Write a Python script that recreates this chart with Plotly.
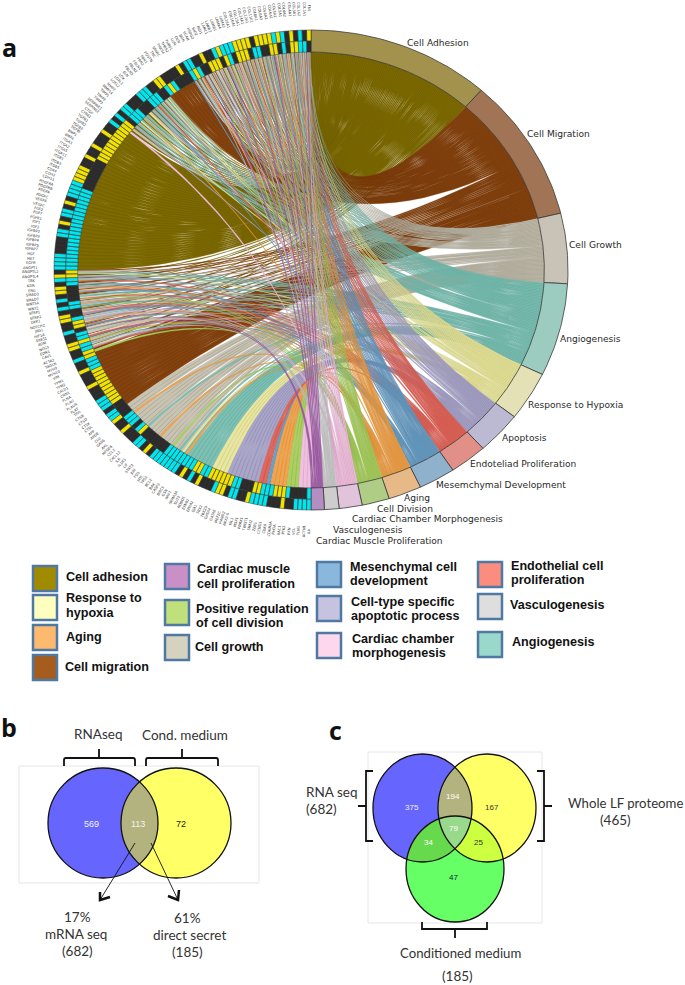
import math
import plotly.graph_objects as go

# ---------- panel a data ----------
categories = ["Cell Adhesion", "Cell Migration", "Cell Growth", "Angiogenesis", "Response to Hypoxia",
              "Apoptosis", "Endoteliad Proliferation", "Mesemchymal Development", "Aging", "Cell Division",
              "Cardiac Chamber Morphogenesis", "Vasculogenesis", "Cardiac Muscle Proliferation"]
cat_keys = list("AMGNHPEDXVCUR")
cat_share = [41.5, 34.8, 17.0, 22.5, 11.9, 10.3, 8.5, 8.3, 7.5, 6.2, 5.2, 3.3, 3.0]
ribbon_colors = ["#7d6a00", "#84420f", "#c9c4b2", "#7cc0b4", "#e9e79f", "#aaa6c9", "#e0675b", "#6c9fc5",
                 "#f0a44f", "#abd062", "#f1c1df", "#d0d0d0", "#a868ae"]
band_colors = ["#a3924d", "#a07455", "#c8c3b6", "#9ccbc0", "#e3e1b5", "#bcb9d3", "#e09086", "#8fb1cc",
               "#e6b987", "#afcd85", "#e2c3dc", "#cdcdcd", "#b48ec3"]
mixed_top = ["AMGNHPEDXVCUR", "AMNHPEDXVC", "AMGNHEDXU", "AMNPEDVR", "AMGNHPDX", "AMNHEXVC", "AMGNPDXU",
             "AMNHEDV", "AMGHPEXR", "AMNPDVC", "AMGNHEDU", "AMNPXVR", "AMGHEDX", "AMNHPDVC", "AMGNEXU",
             "AMHPDVR", "AMGNEDX", "AMNHPXC", "AMGDEVU", "AMNHPX", "AMGNEDR", "AMHPXV", "AMNEDC", "AMGHPU",
             "AMNEDX", "AMHPVR", "AMGNDC", "AMEXU", "AMNHP", "AMGD"]
mixed_upper = ["AGNH", "ANHP", "AGN", "ANE", "AGND", "ANP", "AGH", "AN", "AGNX", "ANH", "AGN", "ANP", "AG", "AC"]
mixed_left = ["MGNH", "AMNP", "MGNE", "AMGD", "ANPX", "MDEH", "AGMN", "NHEV", "MGXP", "GNVD", "AMNE",
              "DEHP", "MGNC", "NPXU", "AMDE", "MGHR", "NVUC", "MERH", "ANXV", "MGUD", "AHPE", "MV"]
growth_genes = ["G", "G", "GX", "G", "G", "G", "G", "GN", "G", "G", "G", "GX", "G", "G", "G", "GV", "G", "GN", "GH"]
gene_sets = (mixed_top + ["M"] * 7 + mixed_upper + ["A"] * 39 + mixed_left + ["M"] * 16 + growth_genes
             + ["NX"] + ["N"] * 7 + ["H"] * 4 + ["P"] * 8 + ["E"] * 2 + ["D"] + ["X"] * 4 + ["V"] * 3 + ["C"] * 3)
ring_outer = ("YKCKYKCYCY" "YYYKYYYYCC" "CYCKKYKKCC" "KYKKKKYYKK" "CCCKK"
              "KCCKC" "KCKKY" "KKKYK" "KYKKY" "YYYCC" "CCKYK" "CCKYK" "CCKKK" "KCCCC"
              "KYCKY" "YKCKC" "KYYKK" "CKKYY" "KKCKK" "YKKKY" "KKKCC" "CKCCY" "KKYKK"
              "KCCKY" "KCCCC" "CCCKY" "KCKYK" "KKCYY" "KCCKK" "YCCCC" "KKKYK" "KCCCC")[:180]
ring_outer = ring_outer.ljust(180, "C")
ring_inner = ("KCCYY" "KCKYY" "KKCCK" "YYYKC" "YKYYY" "KKCYC" "KKKKC" "YCKKC" "CCKKK"
              "CCCKY" "YYYYY" "YYYYY" "YKKKK" "KKKKC" "CCCCC" "CCCCC" "CCCCC" "CCCCC"
              "YYCCK" "KKKCC" "KKCYY" "KCCYC" "CYYCC" "CYYYY" "YYYYY" "YKKKK" "CCCKC"
              "YKKKK" "KKKCC" "CCCCC" "CYYCC" "YYYYY" "YCCKK" "KYYCC" "CYYYC" "KKKKC")
ring_colors = {"Y": "#f2e200", "C": "#00e6ee", "K": "#2b2b2b"}
gene_names = ("FN1 COL1A1 COL1A2 COL3A1 COL4A1 COL4A2 COL5A1 COL5A2 COL6A1 COL6A2 COL6A3 COL8A1 COL11A1 COL12A1 COL14A1 "
              "COL15A1 COL16A1 COL18A1 LAMA2 LAMA4 LAMB1 LAMB2 LAMC1 NID1 NID2 HSPG2 VCAN BGN DCN LUM "
              "THBS1 THBS2 THBS4 SPARC TNC POSTN FBN1 FBN2 FBLN1 FBLN2 FBLN5 ELN LOX LOXL1 LOXL2 "
              "MMP2 MMP14 TIMP1 TIMP2 TIMP3 SERPINE1 SERPINE2 CTGF CYR61 TGFB1 TGFB2 TGFB3 TGFBI BMP1 BMP4 "
              "ITGA1 ITGA2 ITGA5 ITGA11 ITGB1 ITGB3 ITGB5 CD44 CDH2 CDH11 PDGFRA PDGFRB PDGFA PDGFC VEGFA "
              "VEGFC FGF2 FGF7 FGFR1 IGF1 IGF2 IGFBP2 IGFBP3 IGFBP4 IGFBP5 IGFBP7 HGF MET EGFR ANGPT1 "
              "ANGPTL2 ANGPTL4 TEK KDR ENG SMAD3 SMAD7 WNT5A WNT2 SFRP1 SFRP2 DKK1 NOTCH2 JAG1 HIF1A "
              "EPAS1 ADM NOS3 EDN1 CAV1 ACTA2 TAGLN MYH9 MYH10 VIM TPM1 TPM2 CALD1 CNN1 FLNA "
              "PLAU PLAUR PLAT TFPI CTSB CTSD CTSK CTSL APP APOE CLU GAS6 AXL MFGE8 CCL2 "
              "CXCL12 IL6 IL1R1 LIF STAT3 JUN FOS MYC TP53 BCL2 BAX CASP3 BIRC5 GSN NRP1 "
              "SEMA3A SLIT2 ROBO1 EFNB2 EPHA2 GJA1 TBX2 TBX20 GATA4 GATA6 MEF2C HAND2 NKX2-5 ISL1 MSX1 "
              "PRRX1 TWIST1 SNAI2 ZEB1 CCND1 CDK6 CDKN1A RHOA RAC1 PTK2 PXN VCL TLN1 ACTN1 ILK").split()

# ---------- panel b / c data ----------
venn_b_counts = ["569", "113", "72"]
venn_c_counts = ["375", "194", "167", "79", "34", "25", "47"]

legend_rows = [
    ("#a08a00", ["Cell adhesion"]), ("#ffffc0", ["Response to", "hypoxia"]), ("#fdb96e", ["Aging"]),
    ("#a65c1c", ["Cell migration"]), ("#c990c8", ["Cardiac muscle", "cell proliferation"]),
    ("#bfe07a", ["Positive regulation", "of cell division"]), ("#d6d2c0", ["Cell growth"]),
    ("#8ab8dc", ["Mesenchymal cell", "development"]), ("#c5c3e0", ["Cell-type specific", "apoptotic process"]),
    ("#fdd8ec", ["Cardiac chamber", "morphogenesis"]), ("#fb8d7f", ["Endothelial cell", "proliferation"]),
    ("#dedede", ["Vasculogenesis"]), ("#9bd8cc", ["Angiogenesis"])]

# ---------- layout constants ----------
W, H = 685, 985
CX, CY, RX, RY = 311, 270, 257, 240
R_IN, R_MID = 0.908, 0.954
fig = go.Figure()
ann = []
shapes = []


def pt(deg, r):
    a = math.radians(deg)
    return CX + RX * r * math.sin(a), CY - RY * r * math.cos(a)


def arc(d0, d1, r, n=4):
    return [pt(d0 + (d1 - d0) * i / n, r) for i in range(n + 1)]


def bez(p0, p1, n=26):
    out = []
    for i in range(n + 1):
        t = i / n
        out.append(((1 - t) ** 2 * p0[0] + 2 * t * (1 - t) * CX + t ** 2 * p1[0],
                    (1 - t) ** 2 * p0[1] + 2 * t * (1 - t) * CY + t ** 2 * p1[1]))
    return out


def poly_trace(polys, fill, line, lw):
    xs, ys = [], []
    for p in polys:
        xs += [q[0] for q in p] + [p[0][0], None]
        ys += [q[1] for q in p] + [p[0][1], None]
    fig.add_trace(go.Scatter(x=xs, y=ys, mode="lines", fill="toself", fillcolor=fill,
                             line=dict(color=line, width=lw), hoverinfo="skip", showlegend=False))


def text(x, y, s, size, color="#222", anchor="center", family="Lato", bold=False, angle=0):
    ann.append(dict(x=x - 2 if anchor == "left" else x, y=y, text=f"<b>{s}</b>" if bold else s, showarrow=False,
                    xref="x", yref="y", xanchor=anchor, yanchor="middle", textangle=angle, align="left",
                    font=dict(size=size, color=color, family=family)))


# ---------- chord ----------
N = len(gene_sets)
unit = 180.0 / N
cat_start, acc = {}, 0.0
for k, s in zip(cat_keys, cat_share):
    cat_start[k] = acc
    acc += s
cat_count = {k: sum(k in g for g in gene_sets) for k in cat_keys}
cat_pos = {k: 0 for k in cat_keys}
ribbons = {k: [] for k in cat_keys}
for i, g in enumerate(gene_sets):
    w = unit / len(g)
    for j, k in enumerate(sorted(g, key=cat_keys.index)):
        ga0 = 360 - (i + j * w / unit) * unit
        ga1 = ga0 - w
        step = cat_share[cat_keys.index(k)] / max(cat_count[k], 1)
        ca0 = cat_start[k] + cat_pos[k] * step
        ca1 = ca0 + step
        cat_pos[k] += 1
        poly = arc(ca0, ca1, R_IN, 2) + bez(pt(ca1, R_IN), pt(ga1, R_IN)) + arc(ga1, ga0, R_IN, 2) + bez(pt(ga0, R_IN), pt(ca0, R_IN))
        ribbons[k].append(poly)
dark = ["#6a5a00", "#6f3608", "#8f8b7c", "#5c9c91", "#b9b76e", "#807ca3", "#b9493f", "#4c7ea3", "#c98232",
        "#86a845", "#c892b4", "#9c9c9c", "#86498c"]
for k, col, d in zip(cat_keys, ribbon_colors, dark):
    if ribbons[k]:
        poly_trace(ribbons[k], col, d, 0.25)

# category bands
for k, s, col, name in zip(cat_keys, cat_share, band_colors, categories):
    d0 = cat_start[k]
    d1 = d0 + s
    poly_trace([arc(d0, d1, 1.0, 30) + arc(d1, d0, R_IN, 30)], col, "#3a3a3a", 0.8)

# gene cells
for ring, r0, r1 in ((ring_outer, R_MID, 1.0), (ring_inner, R_IN, R_MID)):
    groups = {"Y": [], "C": [], "K": []}
    for i, c in enumerate(ring):
        a0 = 360 - i * unit
        a1 = a0 - unit
        groups[c].append(arc(a0, a1, r1, 2) + arc(a1, a0, r0, 2))
    for c, polys in groups.items():
        poly_trace(polys, ring_colors[c], "#333333", 0.5)

# gene labels
for i, name in enumerate(gene_names[:N]):
    alpha = (i + 0.5) * unit
    x, y = pt(360 - alpha, 1.09)
    text(x, y, name, 3.6, "#333", family="DejaVu Sans", angle=90 - alpha)

cat_label_pos = [(407, 43), (527, 134), (569, 245), (560, 339), (528, 405), (502, 438), (470, 464),
                 (436, 485), (404, 498), (377, 509), (352, 519), (333, 530), (316, 541)]
for name, (x, y) in zip(categories, cat_label_pos):
    text(x, y, name, 9.1, "#2a2a2a", "left", "DejaVu Sans")

# ---------- legend ----------
legend_boxes = [(33, 566), (33, 595), (33, 625), (33, 655), (165, 564), (165, 600), (165, 635),
                (317, 562), (317, 596), (317, 633), (478, 562), (478, 594), (478, 632)]
legend_text = [(66, [577]), (66, [598, 613]), (66, [637]), (65, [667]), (197, [569, 584]), (196, [609, 623]),
               (195, [647]), (350, [567, 581]), (351, [602, 616]), (352, [639, 653]), (511, [566, 580]),
               (510, [605]), (512, [642])]
for (col, lines), (bx, by), (tx, tys) in zip(legend_rows, legend_boxes, legend_text):
    shapes.append(dict(type="rect", xref="x", yref="y", x0=bx, x1=bx + 24, y0=by, y1=by + 25,
                       fillcolor=col, line=dict(color="#4f78a3", width=2.5)))
    for s, ty in zip(lines, tys):
        text(tx, ty, s, 12.6, "#111", "left", "Liberation Sans", bold=True)

# ---------- venn helpers ----------


def ellipse(c, n=240):
    return [(c[0] + c[2] * math.cos(2 * math.pi * i / n), c[1] + c[3] * math.sin(2 * math.pi * i / n)) for i in range(n)]


def inside(p, c):
    return ((p[0] - c[0]) / c[2]) ** 2 + ((p[1] - c[1]) / c[3]) ** 2 <= 1.0


def overlap(*cs):
    pts = []
    for c in cs:
        pts += [p for p in ellipse(c, 720) if all(inside(p, o) for o in cs if o is not c)]
    mx = sum(p[0] for p in pts) / len(pts)
    my = sum(p[1] for p in pts) / len(pts)
    return sorted(pts, key=lambda p: math.atan2(p[1] - my, p[0] - mx))


def outline(c):
    shapes.append(dict(type="circle", xref="x", yref="y", x0=c[0] - c[2], x1=c[0] + c[2], y0=c[1] - c[3], y1=c[1] + c[3],
                       line=dict(color="#111", width=1.3), fillcolor="rgba(0,0,0,0)", layer="above"))


def path(d, width=1.8, color="#111"):
    shapes.append(dict(type="path", xref="x", yref="y", path=d, line=dict(color=color, width=width), layer="above"))


BLUE, YEL, GRN = "#6666ff", "#ffff66", "#66ff66"
# frames
shapes.append(dict(type="rect", xref="x", yref="y", x0=19, x1=259, y0=766, y1=883, line=dict(color="#e6e6e6", width=1)))
shapes.append(dict(type="rect", xref="x", yref="y", x0=368, x1=542, y0=752, y1=923, line=dict(color="#e6e6e6", width=1)))

# panel b
bl, br = (103, 823, 55, 55), (176, 823, 55, 55)
poly_trace([ellipse(bl)], BLUE, BLUE, 0)
poly_trace([ellipse(br)], YEL, YEL, 0)
poly_trace([overlap(bl, br)], "#b3b380", "#b3b380", 0)
outline(bl)
outline(br)
for s, x, col in zip(venn_b_counts, (91, 138, 181), ("#f4f4ff", "#f4f4e8", "#222")):
    text(x, 824, s, 9, col, family="Liberation Sans")
path("M135,843 L100,900", 0.9)
path("M151,843 L178,900", 0.9)
path("M100,892 L100,900 L110,897", 2.5)
path("M168,896 L178,900 L179,890", 2.5)
path("M64,766 L64,760 Q64,758 66,758 L133,758 Q135,758 135,760 L135,766 M99,758 L99,749")
path("M146,766 L146,760 Q146,758 148,758 L216,758 Q218,758 218,760 L218,766 M182,758 L182,749")
text(98, 734, "RNAseq", 13.5, "#333")
text(185, 735, "Cond. medium", 13.5, "#333")
for x, y, s in ((77, 917, "17%"), (76, 934, "mRNA seq"), (77, 951, "(682)"),
                (187, 918, "61%"), (189, 935, "direct secret"), (187, 952, "(185)")):
    text(x, y, s, 13.5, "#333")

# panel c
cb, cy_, cg = (422.5, 808, 49.5, 54), (487, 808, 49, 54), (455, 869, 49, 53)
poly_trace([ellipse(cb)], BLUE, BLUE, 0)
poly_trace([ellipse(cy_)], YEL, YEL, 0)
poly_trace([ellipse(cg)], GRN, GRN, 0)
poly_trace([overlap(cb, cy_)], "#b3b380", "#b3b380", 0)
poly_trace([overlap(cb, cg)], "#66d94d", "#66d94d", 0)
poly_trace([overlap(cy_, cg)], "#ccff40", "#ccff40", 0)
poly_trace([overlap(cb, cy_, cg)], "#99d98c", "#99d98c", 0)
for c in (cb, cy_, cg):
    outline(c)
for s, (x, y), col in zip(venn_c_counts, ((412, 807), (453, 796), (492, 807), (453, 828), (428, 842), (478, 842), (453, 877)),
                          ("#eef", "#fff", "#333", "#fff", "#fff", "#333", "#124")):
    text(x, y, s, 8, col, family="Liberation Sans")
path("M373,771 L366,771 L366,841 L373,841 M366,806 L358,806")
path("M537,771 L544,771 L544,841 L537,841 M544,806 L552,806")
path("M422,922 L422,929 L487,929 L487,922 M455,929 L455,938")
text(306, 792, "RNA seq", 13.5, "#333", "left")
text(306, 809, "(682)", 13.5, "#333", "left")
text(625, 803, "Whole LF proteome", 13.2, "#333")
text(615, 820, "(465)", 13.5, "#333")
text(460, 953, "Conditioned medium", 13.2, "#333")
text(457, 976, "(185)", 13.5, "#333")

# panel letters
text(9, 47, "a", 25, "#111", family="Open Sans", bold=True)
text(9, 727, "b", 25, "#111", family="Open Sans", bold=True)
text(335, 730, "c", 25, "#111", family="Open Sans", bold=True)

fig.update_layout(width=W, height=H, margin=dict(l=0, r=0, t=0, b=0), plot_bgcolor="white", paper_bgcolor="white",
                  xaxis=dict(range=[0, W], visible=False, fixedrange=True),
                  yaxis=dict(range=[H, 0], visible=False, fixedrange=True),
                  annotations=ann, shapes=shapes, showlegend=False)
fig.write_html("out.html", config=dict(displayModeBar=False),
               post_script="document.body.style.margin='0';document.body.style.overflow='hidden';")
print(N, len(ring_outer), len(ring_inner), len(gene_names))
